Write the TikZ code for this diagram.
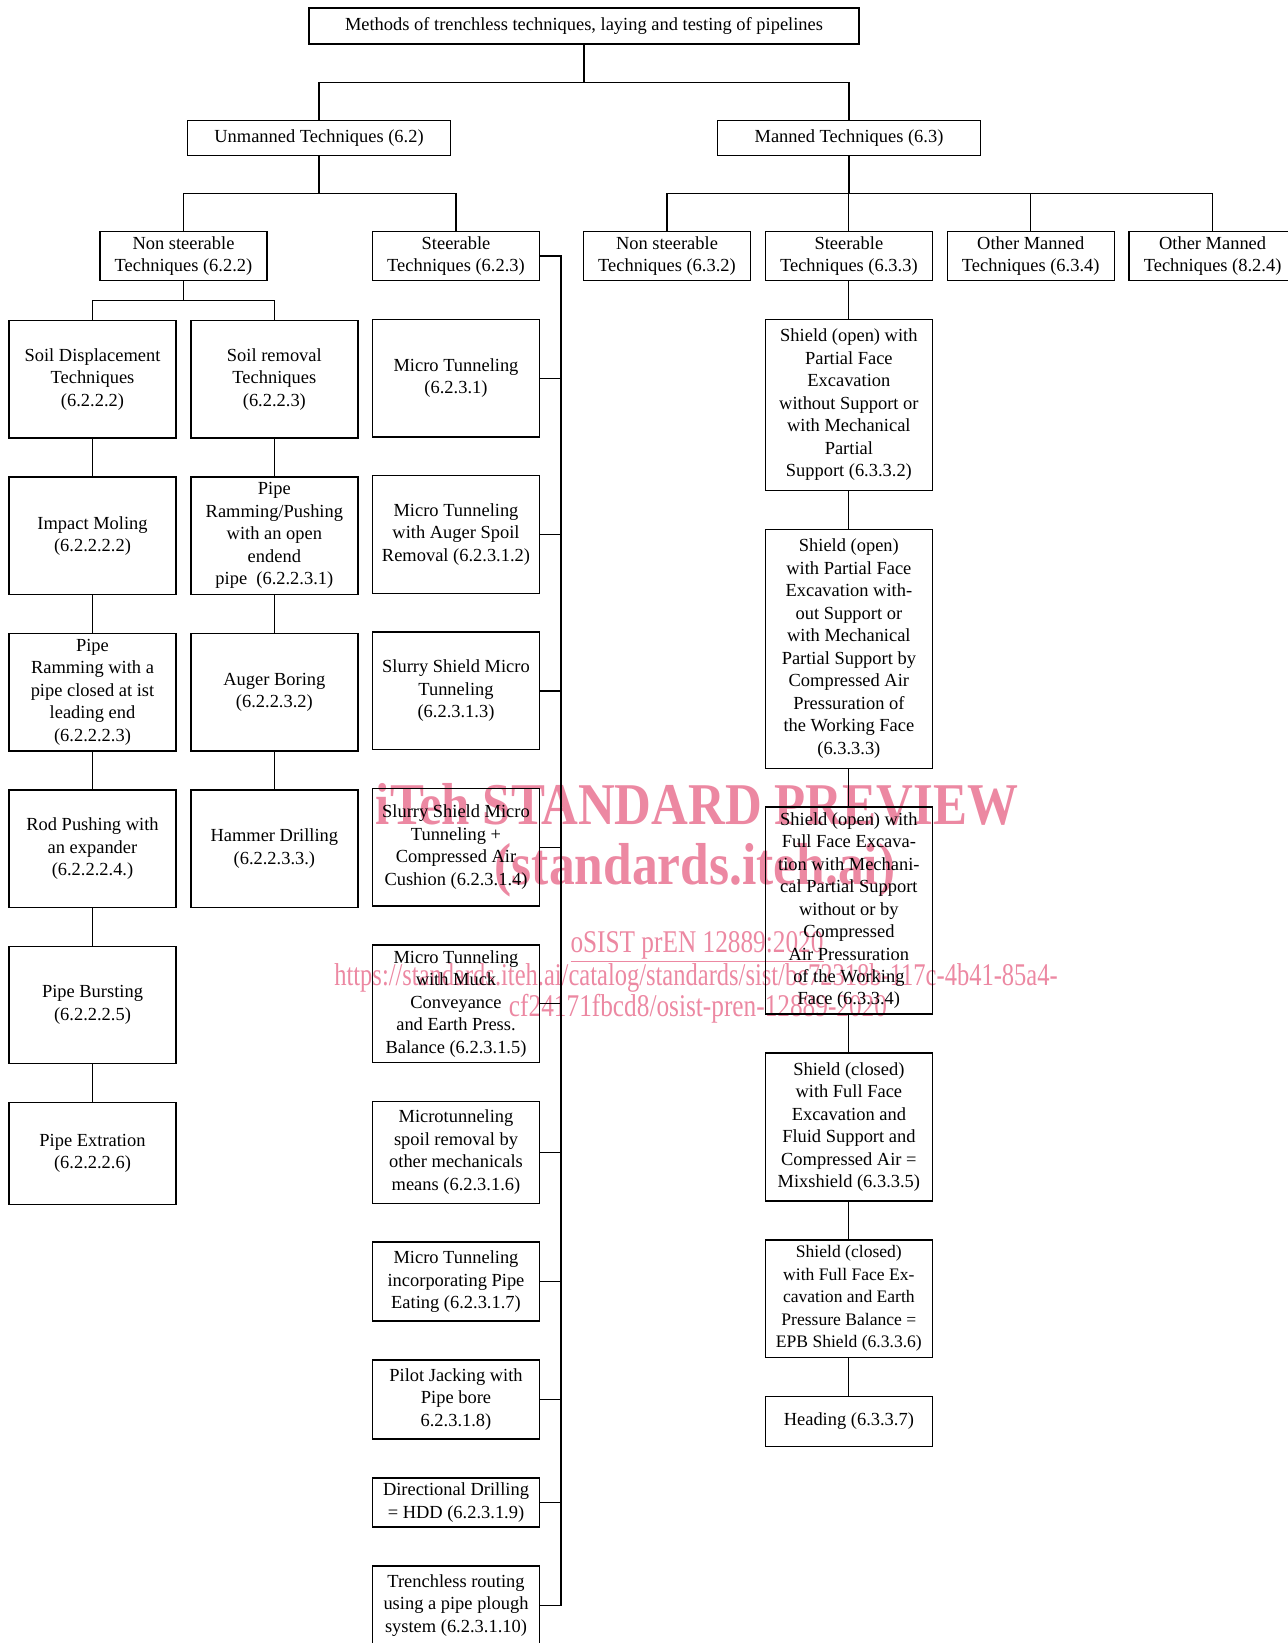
\documentclass[tikz,border=0pt]{standalone}
\usepackage{fontspec}
\setmainfont{Liberation Serif}
\usetikzlibrary{positioning}
\definecolor{wmpink}{RGB}{236,136,162}

\begin{document}
\begin{tikzpicture}[
			x=0.02cm, y=-0.02cm,
			node distance=0.75cm and 0.27cm,
			box/.style={draw, line width=0.8pt, align=center, inner sep=1pt, font=\fontsize{10.5}{12.8}\selectfont, minimum width=3.34cm, minimum height=2.35cm},
			head/.style={box, minimum height=0.98cm},
			wide/.style={box, minimum width=5.26cm, minimum height=0.70cm},
			link/.style={line width=0.7pt},
			wmark/.style={text=wmpink, inner sep=0pt, anchor=base, font=\fontsize{18}{18}\selectfont}
		]
		\useasboundingbox (0,0) rectangle (1288,1643);

		\node[wmark, font=\fontsize{33.7}{33.7}\selectfont\bfseries] (wm1) at (697,824) {\scalebox{0.86}[1]{iTeh STANDARD PREVIEW}};
		\node[wmark, font=\fontsize{33.7}{33.7}\selectfont\bfseries] (wm2) at (695,884) {\scalebox{0.87}[1]{(standards.iteh.ai)}};
		\node[wmark] (wm3) at (697,952) {\scalebox{0.8}[1]{\underline{oSIST prEN 12889:2020}}};
		\node[wmark] (wm4) at (696,985) {\scalebox{0.775}[1]{https://standards.iteh.ai/catalog/standards/sist/bc72318b-117c-4b41-85a4-}};
		\node[wmark] (wm5) at (698,1016) {\scalebox{0.8}[1]{cf24171fbcd8/osist-pren-12889-2020}};

		\node[wide, minimum width=11cm, minimum height=0.72cm] (root) at (584,26) {Methods of trenchless techniques, laying and testing of pipelines};
		\node[wide] (unman) at (319,138) {Unmanned Techniques (6.2)};
		\node[wide] (man) at (849,138) {Manned Techniques (6.3)};

		\node[head] (ns622) at (183.5,256) {Non steerable\\Techniques (6.2.2)};
		\node[head] (s623) at (456,256) {Steerable\\Techniques (6.2.3)};
		\node[head] (ns632) at (667,256) {Non steerable\\Techniques (6.3.2)};
		\node[head, right=of ns632] (s633) {Steerable\\Techniques (6.3.3)};
		\node[head, right=of s633] (om634) {Other Manned\\Techniques (6.3.4)};
		\node[head, right=of om634] (om824) {Other Manned\\Techniques (8.2.4)};

		\node[box, anchor=north] (sd) at (92.5,320) {Soil Displacement\\Techniques\\(6.2.2.2)};
		\node[box, below=of sd] (im) {Impact Moling\\(6.2.2.2.2)};
		\node[box, below=of im] (pr) {Pipe\\Ramming with a\\pipe closed at ist\\leading end\\(6.2.2.2.3)};
		\node[box, below=of pr] (rp) {Rod Pushing with\\an expander\\(6.2.2.2.4.)};
		\node[box, below=of rp] (pb) {Pipe Bursting\\(6.2.2.2.5)};
		\node[box, below=of pb, minimum height=2.04cm] (pe) {Pipe Extration\\(6.2.2.2.6)};

		\node[box, right=of sd] (sr) {Soil removal\\Techniques\\(6.2.2.3)};
		\node[box, below=of sr] (prp) {Pipe\\Ramming/Pushing\\with an open\\endend\\pipe\ \ (6.2.2.3.1)};
		\node[box, below=of prp] (ab) {Auger Boring\\(6.2.2.3.2)};
		\node[box, below=of ab] (hd) {Hammer Drilling\\(6.2.2.3.3.)};

		\node[box, below=of s623] (mt) {Micro Tunneling\\(6.2.3.1)};
		\node[box, below=of mt] (mta) {Micro Tunneling\\with Auger Spoil\\Removal (6.2.3.1.2)};
		\node[box, below=of mta] (ss) {Slurry Shield Micro\\Tunneling\\(6.2.3.1.3)};
		\node[box, below=of ss] (ssc) {Slurry Shield Micro\\Tunneling +\\Compressed Air\\Cushion (6.2.3.1.4)};
		\node[box, below=of ssc] (mtm) {Micro Tunneling\\with Muck\\Conveyance\\and Earth Press.\\Balance (6.2.3.1.5)};
		\node[box, below=of mtm, minimum height=2.04cm] (ms) {Microtunneling\\spoil removal by\\other mechanicals\\means (6.2.3.1.6)};
		\node[box, below=of ms, minimum height=1.58cm] (mti) {Micro Tunneling\\incorporating Pipe\\Eating (6.2.3.1.7)};
		\node[box, below=of mti, minimum height=1.58cm] (pj) {Pilot Jacking with\\Pipe bore\\6.2.3.1.8)};
		\node[box, below=of pj, minimum height=0.98cm] (dd) {Directional Drilling\\= HDD (6.2.3.1.9)};
		\node[box, below=of dd, minimum height=1.58cm] (tr) {Trenchless routing\\using a pipe plough\\system (6.2.3.1.10)};

		\node[box, below=of s633, minimum height=3.42cm] (c1) {Shield (open) with\\Partial Face\\Excavation\\without Support or\\with Mechanical\\Partial\\Support (6.3.3.2)};
		\node[box, below=of c1, minimum height=4.78cm] (c2) {Shield (open)\\with Partial Face\\Excavation with-\\out Support or\\with Mechanical\\Partial Support by\\Compressed Air\\Pressuration of\\the Working Face\\(6.3.3.3)};
		\node[box, below=of c2, minimum height=4.14cm] (c3) {Shield (open) with\\Full Face Excava-\\tion with Mechani-\\cal Partial Support\\without or by\\Compressed\\Air Pressuration\\of the Working\\Face (6.3.3.4)};
		\node[box, below=of c3, minimum height=2.96cm] (c4) {Shield (closed)\\with Full Face\\Excavation and\\Fluid Support and\\Compressed Air =\\Mixshield (6.3.3.5)};
		\node[box, below=of c4, font=\fontsize{10}{12.8}\selectfont] (c5) {Shield (closed)\\with Full Face Ex-\\cavation and Earth\\Pressure Balance =\\EPB Shield (6.3.3.6)};
		\node[box, below=of c5, minimum height=1.0cm] (c6) {Heading (6.3.3.7)};

		\draw[link] (root.south) -- ++(0,-0.76cm) -| (unman.north);
		\draw[link] (root.south) -- ++(0,-0.76cm) -| (man.north);
		\foreach \n in {ns622,s623}
			\draw[link] (unman.south) -- ++(0,-0.75cm) -| (\n.north);
		\foreach \n in {ns632,s633,om634,om824}
			\draw[link] (man.south) -- ++(0,-0.75cm) -| (\n.north);
		\foreach \n in {sd,sr}
			\draw[link] (ns622.south) -- ++(0,-0.39cm) -| (\n.north);

		\draw[link] (sd) -- (im) -- (pr) -- (rp) -- (pb) -- (pe);
		\draw[link] (sr) -- (prp) -- (ab) -- (hd);
		\draw[link] (s633) -- (c1) -- (c2) -- (c3) -- (c4) -- (c5) -- (c6);

		\coordinate (bus) at (561,0);
		\draw[link] (s623.east) -- (s623.east -| bus) |- (tr.east);
		\foreach \n in {mt,mta,ss,ssc,mtm,ms,mti,pj,dd}
			\draw[link] (\n.east) -- (\n.east -| bus);
	\end{tikzpicture}
\end{document}
